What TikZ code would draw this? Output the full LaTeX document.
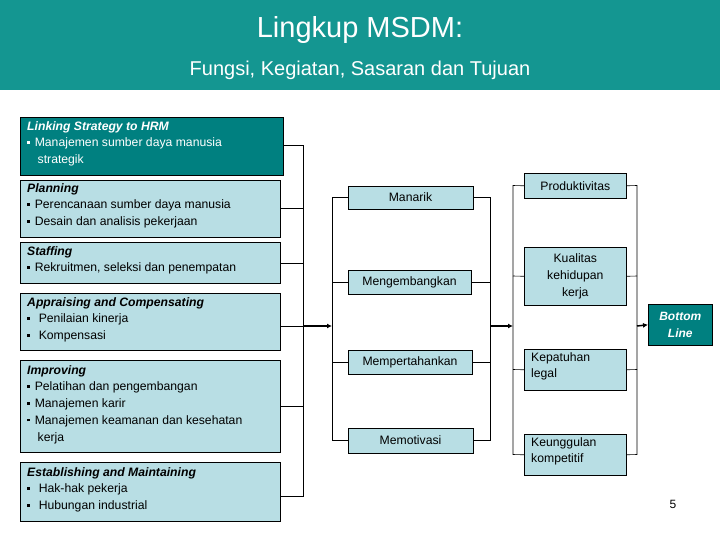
\documentclass[tikz,border=0pt]{standalone}
\usepackage{fontspec}
\setmainfont{Liberation Sans}
\usetikzlibrary{arrows.meta}
\definecolor{teal1}{RGB}{20,150,145}
\definecolor{dark}{RGB}{0,128,128}
\definecolor{light}{RGB}{184,222,228}
\newcommand{\bul}{\raisebox{3pt}{\rule{2.6pt}{2.6pt}}\hspace{5pt}}
\newcommand{\bulw}{\raisebox{3pt}{\rule{2.6pt}{2.6pt}}\hspace{9pt}}
\begin{document}
\begin{tikzpicture}[x=1pt,y=-1pt,
 box/.style={draw=black,line width=0.6pt,fill=light,inner sep=0pt},
 txt/.style={anchor=north west,align=left,font=\fontsize{12.2}{16.8}\selectfont,inner sep=0pt},
 ctr/.style={align=center,font=\fontsize{12.2}{16.8}\selectfont,inner sep=0pt},
 ln/.style={line width=0.6pt},
 arr/.style={line width=1.5pt,-{Latex[length=5pt,width=5pt]}}]
\useasboundingbox (0,0) rectangle (720,540);
\fill[teal1] (0,0) rectangle (720,90);
\node[text=white,font=\fontsize{29}{32}\selectfont] (t1) at (360,30) {Lingkup MSDM:};
\node[text=white,font=\fontsize{20}{24}\selectfont] (t2) at (360,70) {Fungsi, Kegiatan, Sasaran dan Tujuan};
% left boxes
\def\lb#1#2#3#4{\node[box,minimum width=#4,minimum height=#3-#2,anchor=north west] (#1) at (20,#2) {};}
\node[box,fill=dark,minimum width=263,minimum height=58,anchor=north west] (L1) at (20,117) {};
\lb{L2}{180}{237}{260}
\lb{L3}{242}{283}{260}
\lb{L4}{293}{350}{260}
\lb{L5}{360}{452}{260}
\lb{L6}{462}{521}{260}
\node[txt,text=white] (T1) at (27,121) {\textbf{\textit{Linking Strategy to HRM}}\\\bul Manajemen sumber daya manusia\\\hspace{10.5pt}strategik};
\node[txt] (T2) at (27,183) {\textbf{\textit{Planning}}\\\bul Perencanaan sumber daya manusia\\\bul Desain dan analisis pekerjaan};
\node[txt] (T3) at (27,246) {\textbf{\textit{Staffing}}\\\bul Rekruitmen, seleksi dan penempatan};
\node[txt] (T4) at (27,297) {\textbf{\textit{Appraising and Compensating}}\\\bulw Penilaian kinerja\\\bulw Kompensasi};
\node[txt] (T5) at (27,365) {\textbf{\textit{Improving}}\\\bul Pelatihan dan pengembangan\\\bul Manajemen karir\\\bul Manajemen keamanan dan kesehatan\\\hspace{10.5pt}kerja};
\node[txt] (T6) at (27,467) {\textbf{\textit{Establishing and Maintaining}}\\\bulw Hak-hak pekerja\\\bulw Hubungan industrial};
\coordinate (B1) at (303,145);
\coordinate (B6) at (303,496);
\coordinate (BA) at (303,326);
\draw[ln] (L1.east|-B1) -- (B1) -- (B6) -- (L6.east|-B6);
\draw[ln] (L2.east) -- (L2.east-|B1);
\draw[ln] (L3.east) -- (L3.east-|B1);
\draw[ln] (L4.east|-BA) -- (BA);
\draw[ln] (L5.east|-0,406) -- (303,406);
% middle
\node[box,minimum width=125,minimum height=23] (M1) at (410.5,197.5) {};
\node[box,minimum width=123,minimum height=24] (M2) at (409.5,282) {};
\node[box,minimum width=124,minimum height=24] (M3) at (410,362) {};
\node[box,minimum width=125,minimum height=25] (M4) at (410.5,440.5) {};
\node[ctr] at (M1) {Manarik};
\node[ctr] at (M2) {Mengembangkan};
\node[ctr] at (M3) {Mempertahankan};
\node[ctr] at (M4) {Memotivasi};
\coordinate (C1) at (332,326);
\coordinate (C2) at (490,326);
\draw[arr] (BA) -- (C1);
\draw[ln] (M1.west) -- (332,197.5) -- (332,440.5) -- (M4.west);
\draw[ln] (M2.west) -- (332,282);
\draw[ln] (M3.west) -- (332,362);
\draw[ln] (M1.east) -- (490,197.5) -- (490,440.5) -- (M4.east);
\draw[ln] (M2.east) -- (490,282);
\draw[ln] (M3.east) -- (490,362);
% right
\node[box,minimum width=102,minimum height=25,anchor=north west] (R1) at (524,173) {};
\node[box,minimum width=102,minimum height=58,anchor=north west] (R2) at (524,247) {};
\node[box,minimum width=102,minimum height=41,anchor=north west] (R3) at (524,349) {};
\node[box,minimum width=102,minimum height=41,anchor=north west] (R4) at (524,434) {};
\node[ctr] at (R1) {Produktivitas};
\node[ctr] at (R2) {Kualitas\\kehidupan\\kerja};
\node[txt] at (531,352) {Kepatuhan\\legal};
\node[txt] at (531,437) {Keunggulan\\kompetitif};
\coordinate (D1) at (513,326);
\coordinate (D2) at (637,326);
\draw[arr] (C2) -- (D1);
\draw[ln] (R1.west) -- (513,185.5) -- (513,454.5) -- (R4.west);
\draw[ln] (R2.west) -- (513,276);
\draw[ln] (R3.west) -- (513,369.5);
\draw[ln] (R1.east) -- (637,185.5) -- (637,454.5) -- (R4.east);
\draw[ln] (R2.east) -- (637,276);
\draw[ln] (R3.east) -- (637,369.5);
\node[box,fill=dark,minimum width=64,minimum height=41,anchor=north west] (BL) at (648,304) {};
\node[ctr,text=white,font=\fontsize{12}{16.8}\selectfont\bfseries\itshape] at (BL) {Bottom\\Line};
\draw[arr] (D2) -- (BL.west);
\node[font=\fontsize{12}{14}\selectfont] (pg) at (673,504) {5};
\end{tikzpicture}
\end{document}
